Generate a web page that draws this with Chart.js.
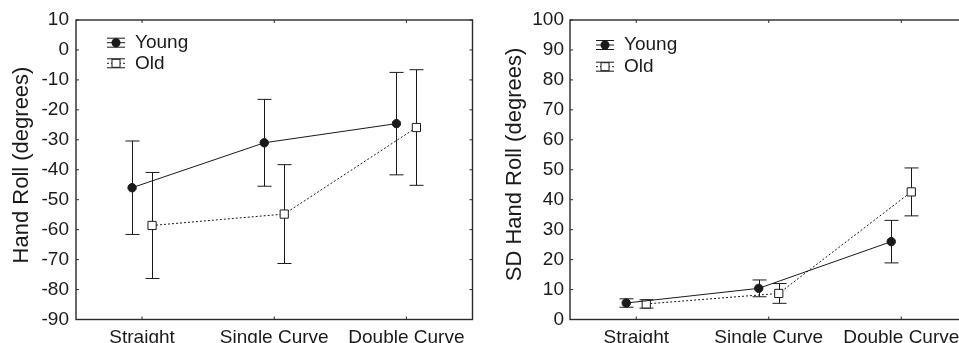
<!DOCTYPE html>
<html><head><meta charset="utf-8">
<script src="https://cdn.jsdelivr.net/npm/chart.js@4/dist/chart.umd.min.js"></script>
<style>
html,body{margin:0;padding:0;background:#fff;overflow:hidden;width:959px;height:343px;}
#c1{position:absolute;left:0;top:0;}
#c2{position:absolute;left:480px;top:0;}
</style></head><body>
<canvas id="c1" width="480" height="343"></canvas>
<canvas id="c2" width="500" height="343"></canvas>
<script>
// ---- data ----
const categories = ['Straight', 'Single Curve', 'Double Curve'];
const seriesNames = ['Young', 'Old'];

// Left panel: Hand Roll (degrees)
const rollYoung    = [-46.0, -31.0, -24.6];
const rollYoungErr = [15.6, 14.5, 17.1];
const rollOld      = [-58.6, -54.8, -25.9];
const rollOldErr   = [17.7, 16.5, 19.3];
const rollTicks    = [-90, -80, -70, -60, -50, -40, -30, -20, -10, 0, 10];

// Right panel: SD Hand Roll (degrees)
const sdYoung    = [5.5, 10.4, 26.0];
const sdYoungErr = [1.4, 2.8, 7.1];
const sdOld      = [5.2, 8.7, 42.6];
const sdOldErr   = [1.4, 3.3, 8.0];
const sdTicks    = [0, 10, 20, 30, 40, 50, 60, 70, 80, 90, 100];

// ---- style ----
const FONT = '"Liberation Sans", Arial, Helvetica, sans-serif';
const INK = '#1a1a1a';
const TXT = '#1a1a1a';
const JITTER = 0.0756; // horizontal dodge of the two groups (category units)
Chart.defaults.font.family = FONT;

const errorBarPlugin = {
  id: 'errorBars',
  beforeDatasetsDraw(chart) {
    const ctx = chart.ctx, ys = chart.scales.y;
    ctx.save();
    ctx.strokeStyle = INK; ctx.lineWidth = 1; ctx.setLineDash([]);
    chart.data.datasets.forEach((ds, di) => {
      const meta = chart.getDatasetMeta(di);
      meta.data.forEach((pt, i) => {
        const v = ds.data[i].y, e = ds.errors[i];
        const x = Math.round(pt.x) + 0.5;
        const yt = ys.getPixelForValue(v + e), yb = ys.getPixelForValue(v - e);
        ctx.beginPath();
        ctx.moveTo(x, yt); ctx.lineTo(x, yb);
        ctx.moveTo(x - 7, yt); ctx.lineTo(x + 7, yt);
        ctx.moveTo(x - 7, yb); ctx.lineTo(x + 7, yb);
        ctx.stroke();
      });
    });
    ctx.restore();
  }
};

const frameLegendPlugin = {
  id: 'frameLegend',
  afterDraw(chart, args, opts) {
    const ctx = chart.ctx, a = chart.chartArea;
    const xs = chart.scales.x, ys = chart.scales.y;
    ctx.save();
    ctx.setLineDash([]);
    ctx.strokeStyle = '#2a2a2a'; ctx.lineWidth = 1.4;
    ctx.strokeRect(a.left, a.top, a.right - a.left, a.bottom - a.top);
    // inward tick marks
    ctx.lineWidth = 1;
    ctx.beginPath();
    ys.ticks.forEach(t => {
      const y = ys.getPixelForValue(t.value);
      ctx.moveTo(a.left, y); ctx.lineTo(a.left + 3, y);
      ctx.moveTo(a.right, y); ctx.lineTo(a.right - 3, y);
    });
    xs.ticks.forEach(t => {
      const x = xs.getPixelForValue(t.value);
      ctx.moveTo(x, a.top); ctx.lineTo(x, a.top + 3);
      ctx.moveTo(x, a.bottom); ctx.lineTo(x, a.bottom - 3);
    });
    ctx.stroke();
    // y-axis title
    ctx.save();
    ctx.translate(opts.titleX, opts.titleY);
    ctx.rotate(-Math.PI / 2);
    ctx.font = '22px ' + FONT;
    ctx.fillStyle = TXT;
    ctx.textAlign = 'center';
    ctx.textBaseline = 'middle';
    ctx.fillText(opts.title, 0, 0);
    ctx.restore();
    // legend
    ctx.font = '19px ' + FONT;
    ctx.textBaseline = 'middle';
    ctx.textAlign = 'left';
    chart.data.datasets.forEach((ds, di) => {
      const cx = a.left + opts.iconX, cy = a.top + opts.rowY[di];
      ctx.strokeStyle = INK; ctx.lineWidth = 1;
      ctx.setLineDash(ds.borderDash || []);
      ctx.beginPath(); ctx.moveTo(cx - 9, cy); ctx.lineTo(cx + 9, cy); ctx.stroke();
      ctx.setLineDash([]);
      ctx.beginPath();
      ctx.moveTo(cx - 9, cy - 4.5); ctx.lineTo(cx + 9, cy - 4.5);
      ctx.moveTo(cx - 9, cy + 4.5); ctx.lineTo(cx + 9, cy + 4.5);
      ctx.moveTo(cx, cy - 4.5); ctx.lineTo(cx, cy + 4.5);
      ctx.stroke();
      if (ds.pointStyle === 'rect') {
        ctx.fillStyle = '#fff';
        ctx.fillRect(cx - 4, cy - 4, 8, 8);
        ctx.strokeRect(cx - 4, cy - 4, 8, 8);
      } else {
        ctx.fillStyle = INK;
        ctx.beginPath(); ctx.arc(cx, cy, 4.5, 0, Math.PI * 2); ctx.fill();
      }
      ctx.fillStyle = TXT;
      ctx.fillText(ds.label, a.left + opts.textX, cy);
    });
    ctx.restore();
  }
};

function makeSeries(vals, errs, name, isOld, sign) {
  return {
    label: name,
    data: vals.map((v, i) => ({ x: i + sign * JITTER, y: v })),
    errors: errs,
    borderColor: INK,
    borderWidth: 1,
    borderDash: isOld ? [2, 2] : [],
    tension: 0,
    pointStyle: isOld ? 'rect' : 'circle',
    pointRadius: isOld ? 5.8 : 4.2,
    pointBorderWidth: 1,
    pointBackgroundColor: isOld ? '#fff' : INK,
    pointBorderColor: INK,
    fill: false
  };
}

function makeChart(id, cfg) {
  return new Chart(document.getElementById(id), {
    type: 'line',
    data: {
      datasets: [
        makeSeries(cfg.young, cfg.youngErr, seriesNames[0], false, -1),
        makeSeries(cfg.old, cfg.oldErr, seriesNames[1], true, 1)
      ]
    },
    options: {
      responsive: false,
      animation: false,
      devicePixelRatio: 1,
      layout: { padding: { top: 20, right: cfg.padRight, left: 0, bottom: 0 } },
      plugins: {
        legend: { display: false },
        tooltip: { enabled: false },
        frameLegend: {
          iconX: cfg.iconX, textX: cfg.textX, rowY: cfg.rowY,
          title: cfg.title, titleX: cfg.titleX, titleY: cfg.titleY
        }
      },
      scales: {
        x: {
          type: 'linear', min: -0.5, max: 2.5,
          afterBuildTicks: s => { s.ticks = categories.map((c, i) => ({ value: i })); },
          afterFit: s => { s.height = 23.5; },
          ticks: {
            callback: v => categories[v],
            font: { size: 19 }, color: TXT, padding: 7,
            autoSkip: false, maxRotation: 0
          },
          grid: { display: true, drawOnChartArea: false, drawTicks: false },
          border: { display: false }
        },
        y: {
          type: 'linear', min: cfg.ticks[0], max: cfg.ticks[cfg.ticks.length - 1],
          afterBuildTicks: s => { s.ticks = cfg.ticks.map(v => ({ value: v })); },
          afterFit: s => { s.width = cfg.yWidth; },
          ticks: { font: { size: 19 }, color: TXT, padding: cfg.tickPad },
          grid: { display: true, drawOnChartArea: false, drawTicks: false },
          border: { display: false },
          title: { display: false }
        }
      }
    },
    plugins: [errorBarPlugin, frameLegendPlugin]
  });
}

makeChart('c1', {
  young: rollYoung, youngErr: rollYoungErr, old: rollOld, oldErr: rollOldErr,
  ticks: rollTicks, title: 'Hand Roll (degrees)', titleX: 22, titleY: 165,
  yWidth: 76, padRight: 7.5, tickPad: 7,
  iconX: 40, textX: 59, rowY: [22.7, 43.3]
});
makeChart('c2', {
  young: sdYoung, youngErr: sdYoungErr, old: sdOld, oldErr: sdOldErr,
  ticks: sdTicks, title: 'SD Hand Roll (degrees)', titleX: 35, titleY: 164.5,
  yWidth: 90, padRight: 12.5, tickPad: 6,
  iconX: 35, textX: 54, rowY: [25, 46.7]
});
</script>
</body></html>
